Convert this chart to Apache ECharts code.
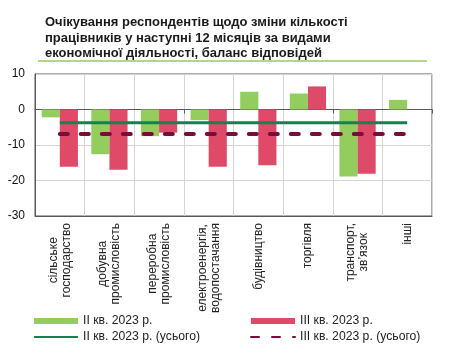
<!DOCTYPE html>
<html>
<head>
<meta charset="utf-8">
<script src="https://cdn.jsdelivr.net/npm/echarts@6/dist/echarts.min.js"></script>
<style>html,body{margin:0;padding:0;background:#fff}#c{width:456px;height:358px}</style>
</head>
<body>
<div id="c"></div>
<script>
var categories = ['сільське\nгосподарство', 'добувна\nпромисловість', 'переробна\nпромисловість', 'електроенергія,\nводопостачання', 'будівництво', 'торгівля', 'транспорт,\nзв’язок', 'інші'];
var q2 = [-2.2, -12.6, -7.5, -3.0, 5.0, 4.5, -18.9, 2.7];
var q3 = [-16.1, -17.0, -6.5, -16.1, -15.7, 6.5, -18.1, null];
var q2Total = [-3.7, -3.7, -3.7, -3.7, -3.7, -3.7, -3.7, -3.7];
var q3Total = [-6.9, -6.9, -6.9, -6.9, -6.9, -6.9, -6.9, -6.9];
var yTicks = { min: -30, max: 10, interval: 10 };
var names = ['II кв. 2023 р.', 'III кв. 2023 р.', 'II кв. 2023 р. (усього)', 'III кв. 2023 р. (усього)'];

var FONT = '"Liberation Sans", Arial, sans-serif';
var chart = echarts.init(document.getElementById('c'));
var legendText = { fontFamily: FONT, fontSize: 12.2, color: '#222', lineHeight: 14 };
chart.setOption({
  animation: false,
  textStyle: { fontFamily: FONT },
  title: {
    text: 'Очікування респондентів щодо зміни кількості\nпрацівників у наступні 12 місяців за видами\nекономічної діяльності, баланс відповідей',
    left: 40, top: 10,
    textStyle: { fontFamily: FONT, fontSize: 13, fontWeight: 'bold', color: '#1a1a1a', lineHeight: 15.5 }
  },
  graphic: [{
    type: 'line', shape: { x1: 38, y1: 61, x2: 427, y2: 61 },
    style: { stroke: '#9cc95c', lineWidth: 1.5 }
  }],
  grid: { left: 35, right: 24, top: 74, bottom: 142, show: true, borderColor: '#595959', borderWidth: 1 },
  legend: [{
    orient: 'vertical', left: 33, top: 314, padding: 0, itemWidth: 44, itemHeight: 6, itemGap: 2,
    textStyle: legendText,
    data: [{ name: names[0], icon: 'rect' }, { name: names[2], itemStyle: { opacity: 0 } }]
  }, {
    orient: 'vertical', left: 250, top: 314, padding: 0, itemWidth: 44, itemHeight: 6, itemGap: 2,
    textStyle: legendText,
    data: [{ name: names[1], icon: 'rect' }, { name: names[3], itemStyle: { opacity: 0 } }]
  }],
  xAxis: [{
    type: 'category', data: categories, position: 'bottom',
    axisLine: { onZero: false, lineStyle: { color: '#595959', width: 1 } },
    axisTick: { show: false },
    splitLine: { show: true, lineStyle: { color: '#d4d4d4', width: 1 } },
    axisLabel: {
      rotate: 90, margin: 7, fontSize: 12, color: '#222', interval: 0,
      formatter: function (v) { return v.split('\n').map(function (s) { return '{c|' + s + '}'; }).join('\n'); },
      rich: { c: { align: 'center', fontSize: 12, fontFamily: FONT, color: '#222', lineHeight: 13 } }
    }
  }, {
    type: 'category', data: categories, position: 'bottom',
    axisLine: { onZero: true, lineStyle: { color: '#595959', width: 1 } },
    axisTick: { show: true, inside: false, length: 4, lineStyle: { color: '#595959' } },
    splitLine: { show: false },
    axisLabel: { show: false }
  }],
  yAxis: {
    type: 'value', min: yTicks.min, max: yTicks.max, interval: yTicks.interval,
    axisLine: { show: true, lineStyle: { color: '#595959' } },
    axisTick: { show: false },
    axisLabel: { fontSize: 12, color: '#111', margin: 10 },
    splitLine: { show: true, lineStyle: { color: '#d4d4d4' } }
  },
  series: [{
    name: names[0], type: 'bar', data: q2, barGap: '0%', barCategoryGap: '27%',
    itemStyle: { color: '#92cd5e' }, z: 2
  }, {
    name: names[1], type: 'bar', data: q3,
    itemStyle: { color: '#de4a68' }, z: 2
  }, {
    name: names[2], type: 'line', data: q2Total, symbol: 'none',
    lineStyle: { color: '#17804f', width: 3 }, z: 5
  }, {
    name: names[3], type: 'line', data: q3Total, symbol: 'none',
    lineStyle: { color: '#7a0c3c', width: 4, type: [8, 13], cap: 'round' }, z: 5
  }]
});
</script>
</body>
</html>
